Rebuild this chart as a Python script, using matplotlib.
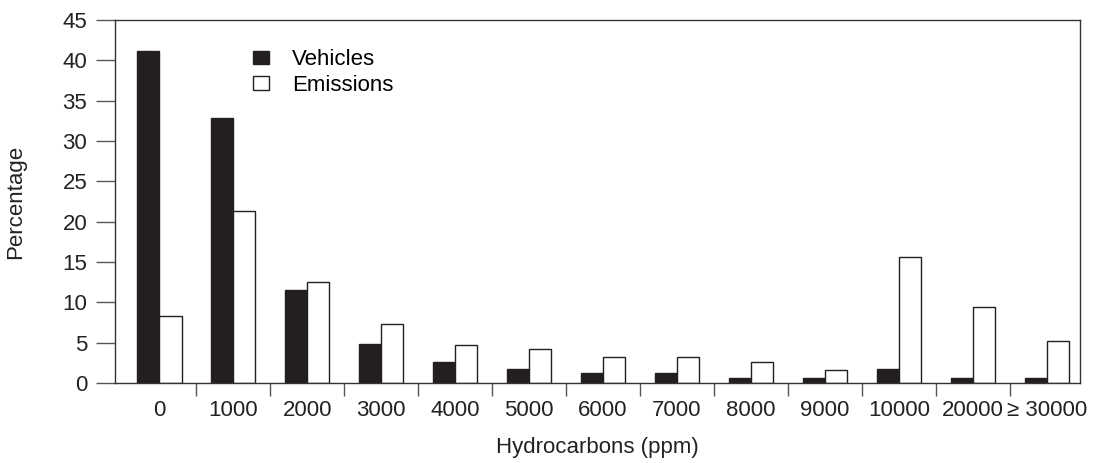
import matplotlib
matplotlib.use("Agg")
import matplotlib.pyplot as plt
import numpy as np

plt.rcParams['font.family'] = ['Liberation Sans', 'DejaVu Sans']

categories = ['0', '1000', '2000', '3000', '4000', '5000', '6000', '7000',
              '8000', '9000', '10000', '20000', '\u2265 30000']
vehicles = [41.1, 32.8, 11.5, 4.8, 2.6, 1.7, 1.3, 1.3, 0.6, 0.6, 1.7, 0.6, 0.6]
emissions = [8.3, 21.3, 12.5, 7.3, 4.75, 4.2, 3.2, 3.2, 2.6, 1.6, 15.6, 9.4, 5.2]

fig = plt.figure(figsize=(10.96, 4.63), dpi=100)
ax = fig.add_axes([115 / 1096, 80 / 463, (1080 - 115) / 1096, (383 - 20) / 463])

x = np.arange(len(categories))
w = 0.3
dark = '#231f20'
fs = 16
ax.bar(x - w / 2, vehicles, w, color=dark, edgecolor=dark, linewidth=1,
       label='Vehicles')
ax.bar(x + w / 2, emissions, w, color='white', edgecolor=dark, linewidth=1,
       label='Emissions')

ax.set_xlim(-0.6, 12.45)
ax.set_ylim(0, 45)
ax.set_yticks(np.arange(0, 46, 5))

# labels at group centres, tick marks at group boundaries
ax.set_xticks(x)
ax.set_xticklabels(categories)
ax.tick_params(axis='x', which='major', length=0, pad=12, labelsize=fs,
               labelcolor='#222222')
ax.set_xticks(x[:-1] + 0.5, minor=True)
ax.tick_params(axis='x', which='minor', length=9, width=1, color='#555555',
               direction='out')
ax.tick_params(axis='y', length=14, width=1, color='#555555', labelsize=fs,
               pad=6, labelcolor='#222222')

for s in ax.spines.values():
    s.set_color('#333333')
    s.set_linewidth(1)

ax.set_xlabel('Hydrocarbons (ppm)', fontsize=fs, labelpad=12, color='#222222')
ax.set_ylabel('Percentage', fontsize=fs, labelpad=26, color='#222222')

ax.legend(loc='upper left', bbox_to_anchor=(0.122, 0.974), frameon=False,
          fontsize=fs, handlelength=0.72, handleheight=0.55,
          handletextpad=1.05, labelspacing=0.2)

fig.savefig('out.png', dpi=100)
